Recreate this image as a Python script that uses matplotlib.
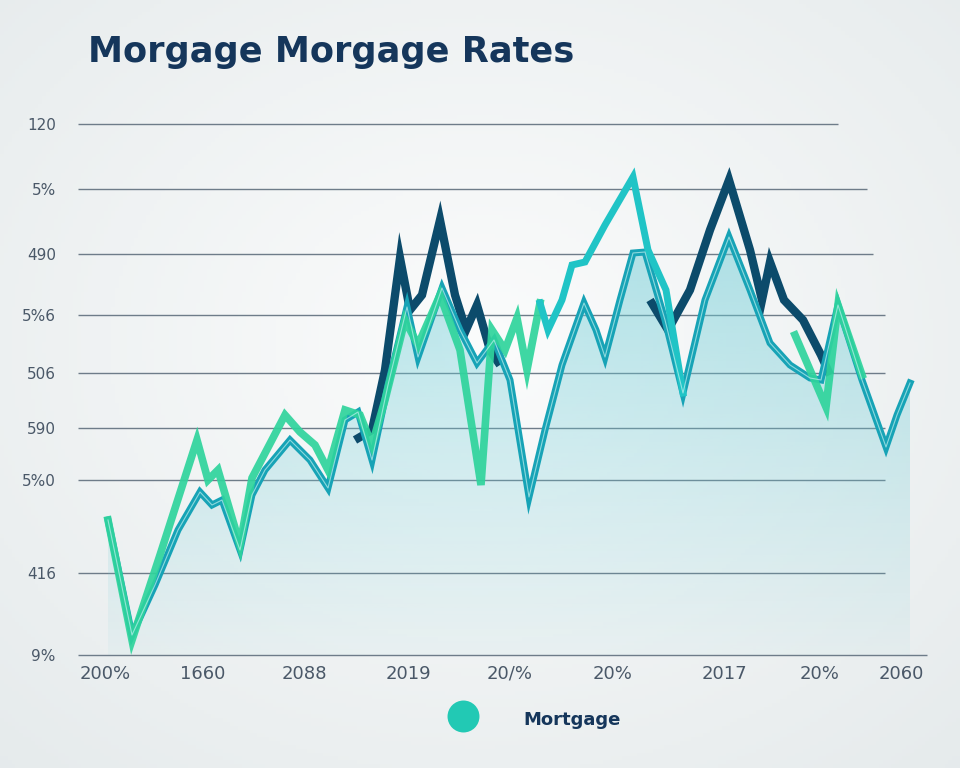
import numpy as np
import matplotlib
matplotlib.use("Agg")
import matplotlib.pyplot as plt
from matplotlib.patches import Polygon
from matplotlib.lines import Line2D

# ---------------- data (arbitrary chart units) ----------------
grid_levels = [0.0, 1.64, 3.5, 4.54, 5.64, 6.8, 8.02, 9.32, 10.62]
y_labels = ["9%", "416", "5%0", "590", "506", "5%6", "490", "5%", "120"]
grid_ends = [84.9, 80.7, 80.7, 80.7, 80.7, 80.7, 79.5, 78.9, 76.0]

x_tick_pos = [2.7, 12.5, 22.6, 33.0, 43.2, 53.5, 64.6, 74.2, 82.3]
x_labels = ["200%", "1660", "2088", "2019", "20/%", "20%", "2017", "20%", "2060"]

teal_x = [3.0, 5.4, 7.7, 10.0, 12.2, 13.4, 14.4, 16.2, 17.4, 18.7, 21.2, 23.2, 25.0,
          26.7, 28.0, 29.4, 31.0, 32.9, 34.0, 36.4, 38.2, 39.9, 41.6, 43.2, 45.1,
          46.7, 48.4, 50.6, 51.8, 52.7, 54.2, 55.5, 56.7, 58.7, 60.5, 62.7, 65.1,
          67.2, 69.2, 71.2, 73.2, 74.3, 76.0, 78.4, 80.8, 81.9, 83.2]
teal_y = [2.7, 0.4, 1.4, 2.5, 3.26, 3.0, 3.1, 2.1, 3.2, 3.7, 4.3, 3.9, 3.34,
          4.7, 4.86, 3.9, 5.4, 6.96, 5.96, 7.34, 6.5, 5.84, 6.3, 5.5, 3.16,
          4.5, 5.8, 7.04, 6.5, 5.96, 7.1, 8.04, 8.06, 6.7, 5.24, 7.1, 8.36,
          7.3, 6.24, 5.8, 5.54, 5.5, 7.0, 5.5, 4.16, 4.8, 5.44]

green_x = [3.0, 5.4, 8.2, 11.9, 13.0, 14.0, 16.2, 17.4, 20.7, 22.2, 23.7, 25.0,
           26.7, 28.2, 29.4, 30.7, 32.7, 34.0, 36.2, 38.2, 40.3, 41.4, 42.7, 43.9,
           44.9, 46.2, np.nan, 71.7, 74.8, 76.0, 78.4]
green_y = [2.7, 0.3, 2.0, 4.3, 3.5, 3.7, 2.2, 3.54, 4.8, 4.46, 4.2, 3.7,
           4.9, 4.8, 4.2, 5.1, 6.7, 6.2, 7.2, 6.1, 3.4, 6.5, 6.1, 6.74,
           5.7, 7.04, np.nan, 6.4, 4.96, 7.0, 5.6]

dark_x = [27.7, 29.4, 30.7, 32.2, 33.2, 34.4, 36.2, 37.7, 38.8, 39.9, 41.2, 42.2,
          np.nan, 57.2, 59.0, 61.2, 63.2, 65.1, 67.2, 68.4, 69.2, 70.6, 72.5, 74.3, 75.2]
dark_y = [4.3, 4.5, 5.7, 7.94, 6.9, 7.2, 8.7, 7.2, 6.5, 7.0, 6.1, 5.8,
          np.nan, 7.1, 6.5, 7.3, 8.5, 9.5, 8.1, 7.1, 7.86, 7.1, 6.7, 6.0, 5.6]

cyan_x = [46.2, 47.0, 48.4, 49.4, 50.7, 52.7, 55.5, 57.0, 58.8, 60.5]
cyan_y = [7.04, 6.5, 7.1, 7.8, 7.86, 8.6, 9.56, 8.1, 7.3, 5.24]

title = "Morgage Morgage Rates"
legend_label = "Mortgage"

# ---------------- figure ----------------
fig = plt.figure(figsize=(9.6, 7.68), dpi=100)
fig.patch.set_facecolor("#eef1f2")

# soft radial background
bg = fig.add_axes([0, 0, 1, 1], zorder=-10)
yy, xx = np.mgrid[0:1:200j, 0:1:250j]
r = np.sqrt(((xx - 0.5) / 0.75) ** 2 + ((yy - 0.45) / 0.75) ** 2)
c_in = np.array([0.985, 0.988, 0.988])
c_out = np.array([0.90, 0.92, 0.925])
t = np.clip(r, 0, 1)[..., None]
bg.imshow(c_in * (1 - t) + c_out * t, extent=[0, 1, 0, 1], aspect="auto")
bg.axis("off")

ax = fig.add_axes([78 / 960, 113 / 768, 852 / 960, 545 / 768])
ax.set_facecolor("none")
ax.set_xlim(0, 85.2)
ax.set_ylim(0, 10.9)
for s in ax.spines.values():
    s.set_visible(False)

# gridlines
for lvl, end in zip(grid_levels, grid_ends):
    ax.hlines(lvl, 0, end, color="#6e7c89", lw=1.0, zorder=1, clip_on=False)

# gradient fill under teal line
verts = list(zip(teal_x, teal_y)) + [(teal_x[-1], 0), (teal_x[0], 0)]
poly = Polygon(verts, closed=True, facecolor="none", edgecolor="none")
ax.add_patch(poly)
grad = np.linspace(0, 1, 256)[:, None]
rgba = np.zeros((256, 1, 4))
rgba[..., 0] = 0.42
rgba[..., 1] = 0.80
rgba[..., 2] = 0.84
rgba[..., 3] = 0.05 + 0.5 * grad
im = ax.imshow(rgba, extent=[0, 85.2, 0, 9.0], origin="lower",
               aspect="auto", zorder=2, interpolation="bilinear")
im.set_clip_path(poly)

ax.plot(dark_x, dark_y, color="#0c4b6b", lw=6, zorder=3, solid_joinstyle="miter",
        solid_capstyle="butt")
ax.plot(teal_x, teal_y, color="#17a3b6", lw=5, zorder=4, solid_joinstyle="miter")
ax.plot(green_x, green_y, color="#2fd49c", lw=5.5, zorder=5, alpha=0.92,
        solid_joinstyle="miter")
ax.plot(cyan_x, cyan_y, color="#20c4c6", lw=5, zorder=5, solid_joinstyle="miter")
ax.plot(teal_x, teal_y, color="#bff0ee", lw=0.8, zorder=6, alpha=0.7)

# ticks
ax.set_yticks(grid_levels)
ax.set_yticklabels(y_labels, fontsize=11, color="#4a5868")
ax.tick_params(axis="y", length=0, pad=16)
ax.set_xticks(x_tick_pos)
ax.set_xticklabels(x_labels, fontsize=13, color="#4a5868")
ax.tick_params(axis="x", length=0, pad=7)

# title
fig.text(88 / 960, 1 - 52 / 768, title, fontsize=25.3, fontweight="bold",
         color="#15365b", ha="left", va="center", family="DejaVu Sans")

# legend
fig.add_artist(Line2D([463 / 960], [1 - 716 / 768], transform=fig.transFigure,
                      marker="o", markersize=23, markerfacecolor="#22c9b4",
                      markeredgecolor="none", linestyle="none"))
fig.text(523 / 960, 1 - 720 / 768, legend_label, fontsize=13, fontweight="bold",
         color="#15365b", ha="left", va="center")

fig.savefig("out.png", dpi=100, facecolor=fig.get_facecolor())
